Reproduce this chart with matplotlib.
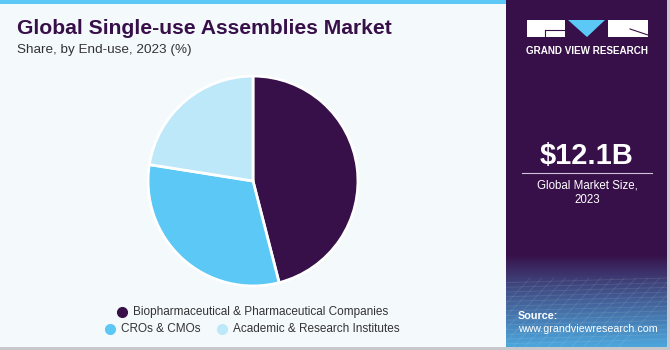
import numpy as np
import matplotlib
matplotlib.use('Agg')
import matplotlib.pyplot as plt
from matplotlib.patches import Rectangle, Polygon
from matplotlib.lines import Line2D

# data
labels = ['Biopharmaceutical & Pharmaceutical Companies', 'CROs & CMOs',
          'Academic & Research Institutes']
shares = [46.0, 31.5, 22.5]
colors = ['#381049', '#5bc8f5', '#bde8f9']

title = 'Global Single-use Assemblies Market'
subtitle = 'Share, by End-use, 2023 (%)'
market_size = '$12.1B'
market_label = 'Global Market Size,\n2023'

W, H = 670, 350
bg = '#f4f9fc'
purple = '#381049'

plt.rcParams['font.family'] = ['Liberation Sans', 'DejaVu Sans']

fig = plt.figure(figsize=(W / 100, H / 100), dpi=100)
fig.patch.set_facecolor(bg)

def fx(x):
    return x / W

def fy(y):
    return 1 - y / H

# top blue strip and right panel
fig.patches.append(Rectangle((0, fy(4)), fx(506), 4 / H, transform=fig.transFigure,
                             facecolor='#5bc8f5', edgecolor='none', zorder=-2))
fig.patches.append(Rectangle((fx(506), fy(347)), fx(161), 347 / H, transform=fig.transFigure,
                             facecolor=purple, edgecolor='none', zorder=-2))
# grey border right/bottom
fig.patches.append(Rectangle((fx(667), 0), fx(3), 1, transform=fig.transFigure,
                             facecolor='#c8c8cc', edgecolor='none', zorder=-2))
fig.patches.append(Rectangle((0, 0), 1, 3 / H, transform=fig.transFigure,
                             facecolor='#c8c8cc', edgecolor='none', zorder=-2))

# source panel gradient
gax = fig.add_axes([fx(506), fy(347), fx(161), 92 / H])
grad = np.linspace(0, 1, 100).reshape(-1, 1)
c0 = np.array([0x38, 0x10, 0x49]) / 255
c1 = np.array([0x4c, 0xa6, 0xdc]) / 255
img = c0 + (c1 - c0) * grad[..., None] ** 0.9
gax.imshow(img, aspect='auto', extent=[0, 1, 0, 1], origin='upper')
for k in np.linspace(0.05, 1.0, 14):
    gax.plot([k - 0.3, k + 0.1], [0, 0.75], color='white', alpha=0.1, lw=0.6)
    gax.plot([0, 1], [k * 0.7, k * 0.7 + 0.05], color='white', alpha=0.1, lw=0.6)
gax.set_xlim(0, 1)
gax.set_ylim(0, 1)
gax.axis('off')

# logo
fig.patches.append(Rectangle((fx(527), fy(37)), fx(38), 17 / H, transform=fig.transFigure,
                             facecolor='white', edgecolor='none'))
fig.patches.append(Rectangle((fx(608), fy(37)), fx(40), 17 / H, transform=fig.transFigure,
                             facecolor='white', edgecolor='none'))
fig.patches.append(Polygon([(fx(568), fy(20)), (fx(605), fy(20)), (fx(587), fy(37))],
                           transform=fig.transFigure, facecolor='#5bc8f5', edgecolor='none'))
fig.lines.append(Line2D([fx(545), fx(565)], [fy(30), fy(30)], transform=fig.transFigure,
                        color=purple, lw=0.8))
fig.lines.append(Line2D([fx(545), fx(545)], [fy(30), fy(37)], transform=fig.transFigure,
                        color=purple, lw=0.8))
fig.lines.append(Line2D([fx(630), fx(648)], [fy(29), fy(35)], transform=fig.transFigure,
                        color=purple, lw=0.8))
fig.text(fx(587), fy(51), 'GRAND VIEW RESEARCH', color='white', fontsize=7.1,
         fontweight='bold', ha='center', va='center')

# market size
fig.text(fx(587), fy(156), market_size, color='white', fontsize=21, fontweight='bold',
         ha='center', va='center')
fig.lines.append(Line2D([fx(522), fx(652)], [fy(173), fy(173)], transform=fig.transFigure,
                        color='#cfc3da', lw=0.8))
fig.text(fx(587), fy(193), market_label, color='white', fontsize=8.3, ha='center',
         va='center', linespacing=1.3)

# source
fig.text(fx(518), fy(316), 'Source:', color='white', fontsize=7.8, fontweight='bold',
         ha='left', va='center')
fig.text(fx(518), fy(329), 'www.grandviewresearch.com', color='white', fontsize=7.7,
         ha='left', va='center')

# titles
fig.text(fx(17), fy(28), title, color=purple, fontsize=15.2, fontweight='heavy',
         ha='left', va='center')
fig.text(fx(17), fy(50), subtitle, color='#333333', fontsize=9.7, ha='left', va='center')

# pie
cx, cy, r = 253, 181, 106
ax = fig.add_axes([fx(cx - r), fy(cy + r), 2 * r / W, 2 * r / H])
ax.pie(shares, colors=colors, startangle=90, counterclock=False, radius=1,
       wedgeprops=dict(edgecolor='white', linewidth=2))
ax.set_xlim(-1.01, 1.01)
ax.set_ylim(-1.01, 1.01)
ax.set_aspect('equal')
ax.axis('off')

# legend
leg_pos = [(122, 312), (110, 329), (222, 329)]
for (lx, ly), lab, col in zip(leg_pos, labels, colors):
    fig.lines.append(Line2D([fx(lx)], [fy(ly)], transform=fig.transFigure, marker='o',
                            markersize=7, color=col, linestyle='none'))
    fig.text(fx(lx + 11), fy(ly), lab, color='#333333', fontsize=8.45, ha='left', va='center')

fig.savefig('out.png', dpi=100, facecolor=bg)
